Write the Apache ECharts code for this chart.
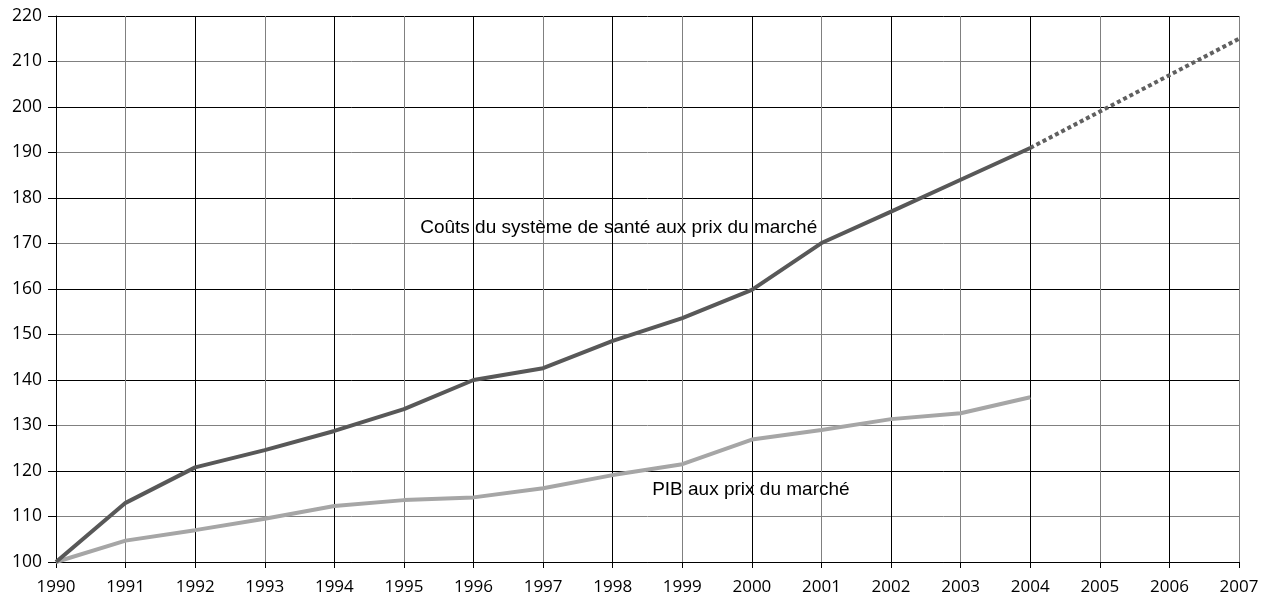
<!DOCTYPE html>
<html>
<head>
<meta charset="utf-8">
<script src="https://cdn.jsdelivr.net/npm/echarts@6/dist/echarts.min.js"></script>
<style>
  html, body { margin: 0; padding: 0; background: #fff; }
  #chart { width: 1271px; height: 601px; }
</style>
</head>
<body>
<div id="chart"></div>
<script>
const years = ['1990', '1991', '1992', '1993', '1994', '1995', '1996', '1997', '1998',
  '1999', '2000', '2001', '2002', '2003', '2004', '2005', '2006', '2007'];

// Index 1990 = 100
const healthCosts = [100, 113, 120.8, 124.6, 128.8, 133.6, 140, 142.6, 148.6,
  153.6, 159.8, 170.1, 177, 184, 191, null, null, null];
const healthProjection = [null, null, null, null, null, null, null, null, null,
  null, null, null, null, null, 191, 199, 207, 215];
const gdp = [100, 104.7, 107, 109.5, 112.3, 113.6, 114.2, 116.2, 119.1,
  121.5, 126.9, 129, 131.4, 132.7, 136.2, null, null, null];

const healthLabel = 'Coûts du système de santé aux prix du marché';
const gdpLabel = 'PIB aux prix du marché';

const chart = echarts.init(document.getElementById('chart'));

const textLabel = (coord, text, offset) => ({
  symbol: 'circle',
  symbolSize: 0,
  silent: true,
  data: [{ coord: coord }],
  label: {
    show: true,
    position: 'inside',
    offset: offset,
    formatter: text,
    color: '#000',
    fontSize: 19,
    fontFamily: "'Liberation Sans', Arial, sans-serif"
  }
});

chart.setOption({
  animation: false,
  backgroundColor: '#fff',
  grid: { left: 56, right: 32, top: 16, bottom: 39 },
  xAxis: {
    type: 'category',
    data: years,
    boundaryGap: false,
    axisLine: { lineStyle: { color: '#000', width: 1 } },
    axisTick: { show: true, length: 6, lineStyle: { color: '#000' } },
    axisLabel: { color: '#000', fontSize: 17, margin: 17, fontFamily: "'Open Sans', sans-serif" },
    splitLine: { show: true, lineStyle: { color: ['#000', '#808080'], width: 1 } }
  },
  yAxis: {
    type: 'value',
    min: 100,
    max: 220,
    interval: 10,
    axisLine: { show: true, lineStyle: { color: '#000', width: 1 } },
    axisTick: { show: true, length: 8, lineStyle: { color: '#000' } },
    axisLabel: { color: '#000', fontSize: 17.5, margin: 14, fontFamily: "'Open Sans', sans-serif" },
    splitLine: { show: true, lineStyle: { color: ['#000', '#808080'], width: 1 } }
  },
  series: [
    {
      name: healthLabel,
      type: 'line',
      data: healthCosts,
      symbol: 'none',
      lineStyle: { color: '#585858', width: 4 },
      z: 3,
      markPoint: textLabel(['1998', 173.4], healthLabel, [6, 0])
    },
    {
      name: 'projection',
      type: 'line',
      data: healthProjection,
      symbol: 'none',
      lineStyle: { color: '#606060', width: 4, type: [4, 3] },
      z: 3
    },
    {
      name: gdpLabel,
      type: 'line',
      data: gdp,
      symbol: 'none',
      lineStyle: { color: '#a6a6a6', width: 4 },
      z: 2,
      markPoint: textLabel(['2000', 115.8], gdpLabel, [-1, 0])
    }
  ]
});
</script>
</body>
</html>
